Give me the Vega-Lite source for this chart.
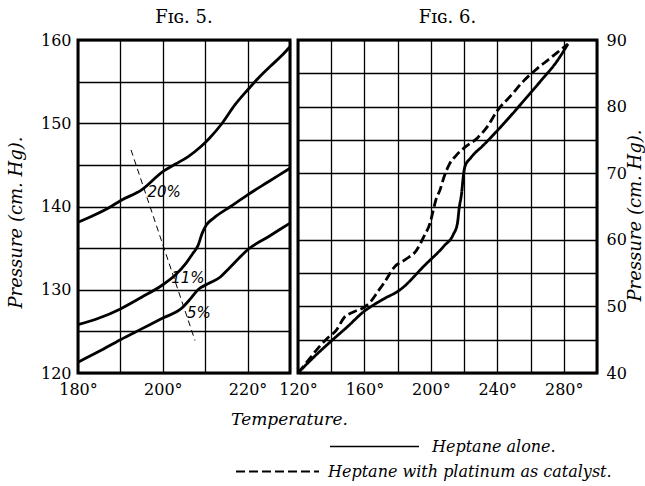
{
  "$schema": "https://vega.github.io/schema/vega-lite/v6.json",
  "background": "white",
  "padding": {"left": 5, "top": 7, "right": 0, "bottom": 0},
  "bounds": "flush",
  "spacing": 8,
  "datasets": {
    "fig5": [
      {"curve": "A", "T": 180, "P": 138.1}, {"curve": "A", "T": 184, "P": 139.0}, {"curve": "A", "T": 187.8, "P": 140.0},
      {"curve": "A", "T": 190, "P": 140.7}, {"curve": "A", "T": 195, "P": 142.0}, {"curve": "A", "T": 200, "P": 144.2},
      {"curve": "A", "T": 203, "P": 145.1}, {"curve": "A", "T": 206, "P": 146.0}, {"curve": "A", "T": 209, "P": 147.2},
      {"curve": "A", "T": 211, "P": 148.2}, {"curve": "A", "T": 214, "P": 150.0}, {"curve": "A", "T": 217, "P": 152.2},
      {"curve": "A", "T": 220, "P": 154.0}, {"curve": "A", "T": 222.5, "P": 155.4}, {"curve": "A", "T": 225.5, "P": 156.9},
      {"curve": "A", "T": 228, "P": 158.1}, {"curve": "A", "T": 230, "P": 159.2},
      {"curve": "B", "T": 180, "P": 125.8}, {"curve": "B", "T": 185, "P": 126.6}, {"curve": "B", "T": 190, "P": 127.7},
      {"curve": "B", "T": 195, "P": 129.1}, {"curve": "B", "T": 200, "P": 130.6}, {"curve": "B", "T": 203, "P": 131.8},
      {"curve": "B", "T": 205.5, "P": 133.2}, {"curve": "B", "T": 207, "P": 134.3}, {"curve": "B", "T": 208.3, "P": 135.3},
      {"curve": "B", "T": 209.3, "P": 136.8}, {"curve": "B", "T": 210.3, "P": 137.8}, {"curve": "B", "T": 212, "P": 138.6},
      {"curve": "B", "T": 216, "P": 140.0}, {"curve": "B", "T": 220, "P": 141.4}, {"curve": "B", "T": 225, "P": 143.0},
      {"curve": "B", "T": 230, "P": 144.6},
      {"curve": "C", "T": 180, "P": 121.3}, {"curve": "C", "T": 185, "P": 122.6}, {"curve": "C", "T": 190, "P": 124.0},
      {"curve": "C", "T": 195, "P": 125.3}, {"curve": "C", "T": 200, "P": 126.6}, {"curve": "C", "T": 204.5, "P": 127.8},
      {"curve": "C", "T": 206.5, "P": 128.9}, {"curve": "C", "T": 208.3, "P": 130.0}, {"curve": "C", "T": 211, "P": 130.8},
      {"curve": "C", "T": 213.5, "P": 131.5}, {"curve": "C", "T": 215.5, "P": 132.5}, {"curve": "C", "T": 218, "P": 133.8},
      {"curve": "C", "T": 220, "P": 134.8}, {"curve": "C", "T": 225, "P": 136.4}, {"curve": "C", "T": 230, "P": 138.0}
    ],
    "fig5dash": [
      {"T": 192.5, "P": 146.8}, {"T": 207.6, "P": 123.9}
    ],
    "fig5labels": [
      {"label": "20%", "T": 200.3, "P": 141.7},
      {"label": "11%", "T": 205.9, "P": 131.4},
      {"label": "5%", "T": 208.5, "P": 127.2}
    ],
    "fig6": [
      {"series": "Heptane alone.", "T": 120, "P": 40}, {"series": "Heptane alone.", "T": 130, "P": 42.5},
      {"series": "Heptane alone.", "T": 140, "P": 44.8}, {"series": "Heptane alone.", "T": 150, "P": 47.0},
      {"series": "Heptane alone.", "T": 159, "P": 49.1}, {"series": "Heptane alone.", "T": 170, "P": 50.9},
      {"series": "Heptane alone.", "T": 182, "P": 52.6}, {"series": "Heptane alone.", "T": 196, "P": 56.1},
      {"series": "Heptane alone.", "T": 208, "P": 59.1}, {"series": "Heptane alone.", "T": 213.5, "P": 60.8},
      {"series": "Heptane alone.", "T": 216, "P": 62.5}, {"series": "Heptane alone.", "T": 217, "P": 64.7},
      {"series": "Heptane alone.", "T": 218.5, "P": 67.0}, {"series": "Heptane alone.", "T": 219.5, "P": 69.5},
      {"series": "Heptane alone.", "T": 220.5, "P": 71.0}, {"series": "Heptane alone.", "T": 224, "P": 72.3},
      {"series": "Heptane alone.", "T": 232, "P": 74.3}, {"series": "Heptane alone.", "T": 240, "P": 76.4},
      {"series": "Heptane alone.", "T": 248, "P": 78.6}, {"series": "Heptane alone.", "T": 256, "P": 80.9},
      {"series": "Heptane alone.", "T": 268, "P": 84.4}, {"series": "Heptane alone.", "T": 275, "P": 86.5},
      {"series": "Heptane alone.", "T": 282.5, "P": 89.4},
      {"series": "Heptane with platinum as catalyst.", "T": 120, "P": 40}, {"series": "Heptane with platinum as catalyst.", "T": 127.8, "P": 42.4},
      {"series": "Heptane with platinum as catalyst.", "T": 133, "P": 44.0}, {"series": "Heptane with platinum as catalyst.", "T": 138, "P": 45.3},
      {"series": "Heptane with platinum as catalyst.", "T": 143, "P": 46.4}, {"series": "Heptane with platinum as catalyst.", "T": 147.7, "P": 48.3},
      {"series": "Heptane with platinum as catalyst.", "T": 153.7, "P": 49.2}, {"series": "Heptane with platinum as catalyst.", "T": 160, "P": 49.9},
      {"series": "Heptane with platinum as catalyst.", "T": 164, "P": 50.8}, {"series": "Heptane with platinum as catalyst.", "T": 168, "P": 52.2},
      {"series": "Heptane with platinum as catalyst.", "T": 172, "P": 53.6}, {"series": "Heptane with platinum as catalyst.", "T": 178, "P": 55.9},
      {"series": "Heptane with platinum as catalyst.", "T": 185, "P": 57.1}, {"series": "Heptane with platinum as catalyst.", "T": 191, "P": 58.3},
      {"series": "Heptane with platinum as catalyst.", "T": 196, "P": 60.6}, {"series": "Heptane with platinum as catalyst.", "T": 199.5, "P": 62.5},
      {"series": "Heptane with platinum as catalyst.", "T": 201.5, "P": 64.5}, {"series": "Heptane with platinum as catalyst.", "T": 203, "P": 66.0},
      {"series": "Heptane with platinum as catalyst.", "T": 205.5, "P": 67.5}, {"series": "Heptane with platinum as catalyst.", "T": 208, "P": 69.5},
      {"series": "Heptane with platinum as catalyst.", "T": 211, "P": 71.3}, {"series": "Heptane with platinum as catalyst.", "T": 215, "P": 72.6},
      {"series": "Heptane with platinum as catalyst.", "T": 220, "P": 73.8}, {"series": "Heptane with platinum as catalyst.", "T": 228, "P": 75.3},
      {"series": "Heptane with platinum as catalyst.", "T": 234, "P": 77.0}, {"series": "Heptane with platinum as catalyst.", "T": 240, "P": 79.4},
      {"series": "Heptane with platinum as catalyst.", "T": 248, "P": 81.6}, {"series": "Heptane with platinum as catalyst.", "T": 256, "P": 83.9},
      {"series": "Heptane with platinum as catalyst.", "T": 263, "P": 85.5}, {"series": "Heptane with platinum as catalyst.", "T": 270.5, "P": 87.0},
      {"series": "Heptane with platinum as catalyst.", "T": 282.5, "P": 89.4}
    ]
  },
  "config": {
    "font": "DejaVu Serif",
    "view": {"stroke": "black", "strokeWidth": 3},
    "axis": {
      "grid": true, "gridColor": "black", "gridOpacity": 1, "gridWidth": 1.3,
      "ticks": false, "domain": false,
      "labelFont": "DejaVu Serif", "labelFontSize": 16, "labelColor": "black", "labelFlush": false, "labelOverlap": false,
      "titleFont": "DejaVu Serif", "titleFontStyle": "italic", "titleFontWeight": "normal", "titleColor": "black"
    },
    "title": {"font": "DejaVu Serif", "fontSize": 18, "fontWeight": "normal", "color": "black", "anchor": "middle", "offset": 5},
    "legend": {
      "labelFont": "DejaVu Serif", "labelFontStyle": "italic", "labelFontSize": 16, "labelColor": "black",
      "labelLimit": 400, "padding": 0, "symbolType": "stroke", "symbolStrokeColor": "black"
    }
  },
  "hconcat": [
    {
      "width": 212,
      "height": 333,
      "title": {"text": "Fɪɢ. 5."},
      "layer": [
        {
          "data": {"name": "fig5"},
          "mark": {"type": "line", "color": "black", "strokeWidth": 2.8, "interpolate": "monotone"},
          "encoding": {
            "x": {
              "field": "T", "type": "quantitative",
              "scale": {"domain": [180, 230], "nice": false, "zero": false},
              "axis": {
                "values": [180, 190, 200, 210, 220, 230],
                "labelExpr": "datum.value % 20 === 0 ? datum.value + '°' : ''",
                "labelPadding": 8,
                "title": "Temperature.", "titleFontSize": 17,
                "titleX": 211, "titleY": 46, "titleAlign": "center", "titleBaseline": "middle"
              }
            },
            "y": {
              "field": "P", "type": "quantitative",
              "scale": {"domain": [120, 160], "nice": false, "zero": false},
              "axis": {
                "values": [120, 125, 130, 135, 140, 145, 150, 155, 160],
                "labelExpr": "datum.value % 10 === 0 ? datum.value : ''",
                "labelPadding": 7,
                "title": "Pressure (cm. Hg).", "titleFontSize": 18,
                "titleX": -62, "titleY": 182, "titleAngle": 270, "titleAlign": "center", "titleBaseline": "middle"
              }
            },
            "detail": {"field": "curve"}
          }
        },
        {
          "data": {"name": "fig5dash"},
          "mark": {"type": "line", "color": "black", "strokeWidth": 1, "strokeDash": [6, 4]},
          "encoding": {
            "x": {"field": "T", "type": "quantitative"},
            "y": {"field": "P", "type": "quantitative"}
          }
        },
        {
          "data": {"name": "fig5labels"},
          "mark": {"type": "text", "font": "DejaVu Sans", "fontStyle": "italic", "fontSize": 15, "color": "black"},
          "encoding": {
            "x": {"field": "T", "type": "quantitative"},
            "y": {"field": "P", "type": "quantitative"},
            "text": {"field": "label"}
          }
        }
      ]
    },
    {
      "width": 299,
      "height": 333,
      "title": {"text": "Fɪɢ. 6."},
      "data": {"name": "fig6"},
      "encoding": {
        "x": {
          "field": "T", "type": "quantitative",
          "scale": {"domain": [120, 300], "nice": false, "zero": false},
          "axis": {
            "values": [120, 140, 160, 180, 200, 220, 240, 260, 280, 300],
            "labelExpr": "datum.value % 40 === 0 && datum.value < 300 ? datum.value + '°' : ''",
            "labelPadding": 8,
            "title": null
          }
        },
        "y": {
          "field": "P", "type": "quantitative",
          "scale": {"domain": [40, 90], "nice": false, "zero": false},
          "axis": {
            "orient": "right",
            "values": [40, 45, 50, 55, 60, 65, 70, 75, 80, 85, 90],
            "labelExpr": "datum.value % 10 === 0 ? datum.value : ''",
            "labelPadding": 9,
            "title": "Pressure (cm. Hg).", "titleFontSize": 18,
            "titleX": 38, "titleY": 175, "titleAngle": 270, "titleAlign": "center", "titleBaseline": "middle"
          }
        }
      },
      "layer": [
        {
          "transform": [{"filter": "datum.series === 'Heptane alone.'"}],
          "mark": {"type": "line", "color": "black", "strokeWidth": 2.8, "interpolate": "monotone"},
          "encoding": {
            "strokeDash": {
              "field": "series", "type": "nominal",
              "scale": {"domain": ["Heptane alone."], "range": [[1, 0]]},
              "legend": {
                "title": null, "orient": "none", "legendX": 31, "legendY": 361,
                "symbolSize": 7921, "symbolStrokeWidth": 1.5, "labelOffset": 12
              }
            }
          }
        },
        {
          "transform": [{"filter": "datum.series !== 'Heptane alone.'"}],
          "mark": {"type": "line", "color": "black", "strokeWidth": 2.8, "interpolate": "monotone"},
          "encoding": {
            "strokeDash": {
              "field": "series", "type": "nominal",
              "scale": {"domain": ["Heptane with platinum as catalyst."], "range": [[9, 4]]},
              "legend": {
                "title": null, "orient": "none", "legendX": -63, "legendY": 389,
                "symbolSize": 6889, "symbolStrokeWidth": 1.8, "symbolDash": [14, 7], "labelOffset": 8
              }
            }
          }
        }
      ],
      "resolve": {"scale": {"strokeDash": "independent"}, "legend": {"strokeDash": "independent"}}
    }
  ]
}
